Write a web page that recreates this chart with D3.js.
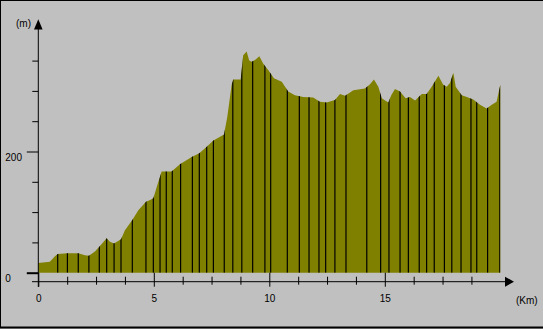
<!DOCTYPE html>
<html>
<head>
<meta charset="utf-8">
<script src="https://cdn.jsdelivr.net/npm/d3@7"></script>
<style>
  body { margin: 0; background: #c0c0c0; }
  svg text { font-family: "Liberation Sans", Arial, sans-serif; font-size: 10px; fill: #000; }
</style>
</head>
<body>
<svg id="profile" width="543" height="329"></svg>
<script>
// elevation profile, distance in km and altitude in m
var dist = [0, 0.5, 0.72, 0.84, 1.26, 1.73, 2.02, 2.19, 2.45, 2.64, 2.96, 3.1, 3.28, 3.58, 3.75,
  4.07, 4.33, 4.66, 4.84, 4.98, 5.13, 5.34, 5.77, 6.13, 6.64, 6.97, 7.29, 7.58, 8.04, 8.18,
  8.37, 8.44, 8.76, 8.87, 9.02, 9.13, 9.24, 9.38, 9.57, 9.74, 9.96, 10.2, 10.54, 10.82, 11.11,
  11.47, 11.9, 12.19, 12.48, 12.84, 13.06, 13.28, 13.64, 14.14, 14.36, 14.53, 14.72, 14.87, 15.15,
  15.28, 15.44, 15.66, 15.9, 16.09, 16.31, 16.6, 16.81, 17.03, 17.32, 17.53, 17.68, 17.82, 17.97,
  18.07, 18.33, 18.55, 18.83, 19.12, 19.41, 19.63, 19.84, 20];
var alt = [16, 18, 27, 31, 32, 32, 29, 28, 35, 43, 57, 51, 48, 55, 70,
  87, 103, 117, 120, 123, 142, 167, 167, 179, 191, 197, 208, 218, 228, 257,
  310, 319, 319, 359, 365, 350, 348, 351, 357, 345, 334, 321, 315, 299, 293,
  290, 289, 282, 281, 285, 295, 292, 301, 304, 311, 319, 307, 288, 281,
  293, 303, 299, 288, 290, 284, 295, 295, 307, 325, 310, 307, 313, 330,
  307, 293, 290, 286, 277, 271, 277, 282, 310];

// waypoint markers (km)
var marks = [0.84, 1.26, 1.73, 2.19, 2.64, 2.96, 3.28, 3.58, 4.07, 4.66, 4.98, 5.27, 5.54, 5.8,
  6.16, 6.67, 6.97, 7.29, 7.58, 8.05, 8.42, 8.81, 9.28, 9.81, 10.06, 10.78, 11.3, 11.72, 12.15,
  12.44, 12.84, 13.32, 14.22, 14.82, 15.18, 15.66, 16.02, 16.49, 16.81, 17.14, 17.58, 17.9,
  18.3, 18.73, 18.98, 19.45, 19.98];

var xTicks = d3.range(0, 20, 1.25);
var xLabels = [0, 5, 10, 15];
var yTicks = d3.range(0, 351, 50);
var yLabels = [0, 200];

var svg = d3.select("#profile");

// frame
svg.append("rect").attr("x", 0.5).attr("y", 0.5).attr("width", 545).attr("height", 327)
  .attr("fill", "#c0c0c0").attr("stroke", "#000").attr("stroke-width", 1);
svg.append("line").attr("x1", 0).attr("x2", 543).attr("y1", 327.5).attr("y2", 327.5)
  .attr("stroke", "#000").attr("stroke-width", 2);

var x = d3.scaleLinear().domain([0, 20]).range([38.3, 500.3]);
var y = d3.scaleLinear().domain([0, 350]).range([272.7, 60.6]);

var pts = dist.map(function(d, i) { return [d, alt[i]]; });

var area = d3.area()
  .x(function(d) { return x(d[0]); })
  .y0(y(0))
  .y1(function(d) { return y(d[1]); });

svg.append("clipPath").attr("id", "clipProfile")
  .append("path").attr("d", area(pts));

svg.append("path")
  .attr("d", area(pts))
  .attr("fill", "#808000");

// marker lines, cut by the profile
svg.append("g").attr("clip-path", "url(#clipProfile)")
  .selectAll("line")
  .data(marks)
  .enter()
  .append("line")
  .attr("x1", function(d) { return x(d); })
  .attr("x2", function(d) { return x(d); })
  .attr("y1", y(0))
  .attr("y2", y(400))
  .attr("stroke", "#000")
  .attr("stroke-width", 1.2);

// x axis
var gx = svg.append("g")
  .attr("transform", "translate(0,281.7)")
  .call(d3.axisBottom(x).tickValues(xTicks).tickSizeOuter(0)
    .tickFormat(function(d) { return xLabels.indexOf(d) >= 0 ? d : ""; }));
gx.select(".domain").remove();
gx.append("line").attr("x1", 32).attr("x2", 506).attr("y1", 0).attr("y2", 0)
  .attr("stroke", "#000");
gx.selectAll(".tick line")
  .attr("y1", function(d) { return xLabels.indexOf(d) >= 0 ? -9 : -5; })
  .attr("y2", function(d) { return xLabels.indexOf(d) >= 0 ? 5 : 3; })
  .attr("stroke", "#000");
gx.selectAll(".tick text").attr("y", 17).attr("dy", "0.32em").attr("fill", "#000")
  .style("font-size", "10px").style("font-family", "Liberation Sans, Arial, sans-serif");
gx.append("path").attr("d", "M505,-5L514,0L505,5Z").attr("fill", "#000");

// y axis
var gy = svg.append("g")
  .attr("transform", "translate(38.3,0)")
  .call(d3.axisLeft(y).tickValues(yTicks).tickSizeOuter(0)
    .tickFormat(function(d) { return yLabels.indexOf(d) >= 0 ? d : ""; }));
gy.select(".domain").remove();
gy.append("line").attr("x1", 0).attr("x2", 0).attr("y1", 26).attr("y2", 287)
  .attr("stroke", "#000");
gy.selectAll(".tick line")
  .attr("x1", function(d) { return yLabels.indexOf(d) >= 0 ? -11.5 : -6; })
  .attr("x2", 0)
  .attr("stroke", "#000")
  .attr("stroke-width", function(d) { return d === 0 ? 2 : 1; });
gy.selectAll(".tick text").attr("x", -33).attr("dy", "0.9em").attr("text-anchor", "start")
  .attr("fill", "#000")
  .style("font-size", "10px").style("font-family", "Liberation Sans, Arial, sans-serif");
gy.append("path").attr("d", "M-4.3,29.5L0,19.3L4.3,29.5Z").attr("fill", "#000");

// units
svg.append("text").attr("x", 16).attr("y", 23).attr("dy", "0.35em").text("(m)");
svg.append("text").attr("x", 516).attr("y", 300).attr("dy", "0.35em").text("(Km)");
</script>
</body>
</html>
